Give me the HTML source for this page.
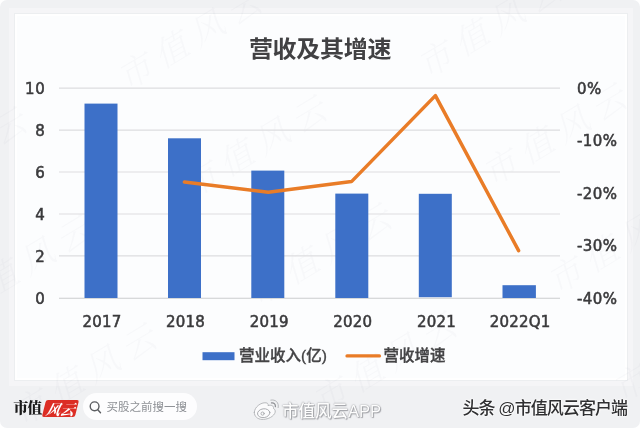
<!DOCTYPE html>
<html lang="zh-CN">
<head>
<meta charset="utf-8">
<title>营收及其增速</title>
<style>
  html, body { margin: 0; padding: 0; }
  body { width: 640px; height: 428px; overflow: hidden; background: #ffffff;
         font-family: "Liberation Sans", "Noto Sans CJK SC", sans-serif; }
  #stage { position: relative; width: 640px; height: 428px; overflow: hidden;
           background: #f0f1f3; border-radius: 7px; }
  #card { position: absolute; left: 14.7px; top: 14px; width: 612px; height: 366.3px; box-sizing: border-box;
          background: #fcfdfe; border: 2px solid #ffffff; box-shadow: 0 0 0 1px #eceef0, 0 0 0 6px rgba(255,255,255,0.32); }
  .wmt { font-family: "Noto Serif CJK SC", "Liberation Serif", serif; font-size: 34px; font-weight: 300; font-style: italic;
         letter-spacing: 8px; fill: rgba(140,150,170,0.045); }
  #title { position: absolute; left: 0; width: 640px; top: 31px; text-align: center; transform: scaleY(0.93); transform-origin: 50% 100%;
           font-family: "Liberation Sans", "Noto Sans CJK SC", sans-serif;
           font-weight: 700; font-size: 24px; line-height: 34px; color: #414143; letter-spacing: -0.3px; }
  svg { position: absolute; left: 0; top: 0; }
  .ax { font-family: "DejaVu Sans", "Liberation Sans", sans-serif; font-size: 15px; letter-spacing: 0.2px; fill: #3a3a3c; stroke: #3a3a3c; stroke-width: 0.55px; }
  .lg { font-family: "Liberation Sans", "Noto Sans CJK SC", sans-serif; font-size: 15.5px; fill: #444446; font-weight: 500; stroke: #444446; stroke-width: 0.35px; }
  #logo { position: absolute; left: 13.3px; top: 395.8px; height: 22px; line-height: 22px;
          font-family: "Noto Serif CJK SC", "Liberation Serif", serif; font-weight: 900;
          font-size: 15px; color: #1a1a1a; letter-spacing: -1.1px; }
  #red { position: absolute; left: 44px; top: 399.6px; width: 32.6px; height: 16.6px; background: #dc2d24;
         transform: skewX(-14deg); border-radius: 2px; }
  #redt { position: absolute; left: 44px; top: 399.5px; width: 33px; height: 17px; line-height: 17px; text-align: center;
          color: #fff; font-family: "Noto Serif CJK SC", serif; font-style: italic; font-weight: 700; font-size: 14.5px;
          transform: skewX(-14deg); letter-spacing: -0.5px; }
  #pill { position: absolute; left: 83px; top: 393px; width: 114px; height: 27px; border-radius: 14px; background: #fdfdfe; }
  #pill span { position: absolute; left: 23.4px; top: 0.5px; line-height: 27px; font-size: 11.5px; color: #8c8f94; white-space: nowrap; }
  #weibo { position: absolute; left: 282px; top: 399px; font-weight: 500; line-height: 24px; font-size: 16.5px; color: #fdfdfd; white-space: nowrap;
           text-shadow: 0 0 1px #9a9ca0, 0 0 2px #a8aaae, 1px 1px 1px #a0a2a6; letter-spacing: 0; }
  #tt { position: absolute; left: 462.5px; top: 396.7px; line-height: 24px; font-size: 17px; letter-spacing: -0.95px; font-weight: 500; color: #303032; white-space: nowrap;
        text-shadow: 0 0 2px #fff, 0 0 2px #fff, 0 0 3px #fff; }
</style>
</head>
<body>
<div id="stage">
  <div id="card"></div>


  <svg id="wmsvg" width="640" height="428" viewBox="0 0 640 428">
    <g class="wmt">
      <text transform="translate(-165,84) rotate(-31)" x="-17" y="12">市值风云</text>
      <text transform="translate(-100,192) rotate(-31)" x="-17" y="12">市值风云</text>
      <text transform="translate(-35,300) rotate(-31)" x="-17" y="12">市值风云</text>
      <text transform="translate(30,408) rotate(-31)" x="-17" y="12">市值风云</text>
      <text transform="translate(70,-36) rotate(-31)" x="-17" y="12">市值风云</text>
      <text transform="translate(135,72) rotate(-31)" x="-17" y="12">市值风云</text>
      <text transform="translate(200,180) rotate(-31)" x="-17" y="12">市值风云</text>
      <text transform="translate(265,288) rotate(-31)" x="-17" y="12">市值风云</text>
      <text transform="translate(330,396) rotate(-31)" x="-17" y="12">市值风云</text>
      <text transform="translate(435,60) rotate(-31)" x="-17" y="12">市值风云</text>
      <text transform="translate(500,168) rotate(-31)" x="-17" y="12">市值风云</text>
      <text transform="translate(565,276) rotate(-31)" x="-17" y="12">市值风云</text>
      <text transform="translate(630,384) rotate(-31)" x="-17" y="12">市值风云</text>
    </g>
  </svg>
  <div id="title">营收及其增速</div>
  <div id="pill"><span>买股之前搜一搜</span></div>

  <svg width="640" height="428" viewBox="0 0 640 428">
    <!-- gridlines -->
    <g stroke="#dddddf" stroke-width="1.2">
      <line x1="59" x2="560" y1="88.2" y2="88.2"/>
      <line x1="59" x2="560" y1="130.1" y2="130.1"/>
      <line x1="59" x2="560" y1="172" y2="172"/>
      <line x1="59" x2="560" y1="214" y2="214"/>
      <line x1="59" x2="560" y1="255.9" y2="255.9"/>
    </g>
    <line x1="59" x2="560" y1="298.3" y2="298.3" stroke="#cbccce" stroke-width="1.1"/>
    <!-- bars -->
    <g fill="#3d70c8">
      <rect x="84.5" y="103.6" width="33" height="194.4"/>
      <rect x="168" y="138.3" width="33" height="159.7"/>
      <rect x="251.3" y="170.6" width="33" height="127.4"/>
      <rect x="335.3" y="193.6" width="33" height="104.4"/>
      <rect x="418.8" y="193.8" width="33" height="103.4"/>
      <rect x="502.5" y="285.2" width="33.4" height="12.8"/>
    </g>
    <!-- line -->
    <polyline fill="none" stroke="#e97c27" stroke-width="3.5" stroke-linejoin="round" stroke-linecap="round"
      points="184.4,182 268.3,192.3 351.5,181.6 435.4,95.6 518.6,250.6"/>
    <!-- left axis -->
    <g class="ax" text-anchor="end" style="letter-spacing:0.6px">
      <text x="45.3" y="93.8">10</text>
      <text x="45.3" y="135.7">8</text>
      <text x="45.3" y="177.6">6</text>
      <text x="45.3" y="219.6">4</text>
      <text x="45.3" y="261.5">2</text>
      <text x="45.3" y="303.6">0</text>
    </g>
    <!-- right axis -->
    <g class="ax" text-anchor="start" style="letter-spacing:0.4px">
      <text x="577" y="93.8">0%</text>
      <text x="577" y="146.3">-10%</text>
      <text x="577" y="198.8">-20%</text>
      <text x="577" y="251.3">-30%</text>
      <text x="577" y="303.8">-40%</text>
    </g>
    <!-- x axis -->
    <g class="ax" text-anchor="middle">
      <text x="101.9" y="326.9">2017</text>
      <text x="185.4" y="326.9">2018</text>
      <text x="269.2" y="326.9">2019</text>
      <text x="352.8" y="326.9">2020</text>
      <text x="436.4" y="326.9">2021</text>
      <text x="520.1" y="326.9">2022Q1</text>
    </g>
    <!-- legend -->
    <rect x="202.5" y="352.2" width="32" height="8" fill="#3d70c8"/>
    <text class="lg" x="239" y="361.3">营业收入(亿)</text>
    <line x1="347" x2="379.5" y1="355.9" y2="355.9" stroke="#e97c27" stroke-width="3.2" stroke-linecap="round"/>
    <text class="lg" x="383.5" y="361.3">营收增速</text>

    <!-- search icon -->
    <g fill="none" stroke="#5b5d61" stroke-width="1.4" stroke-linecap="round">
      <circle cx="94.6" cy="406.3" r="4.4"/>
      <line x1="97.8" y1="409.7" x2="100.5" y2="412.7"/>
    </g>
    <!-- weibo icon -->
    <g fill="none" stroke="#b0b2b6" stroke-width="0.9" stroke-linecap="round" stroke-linejoin="round">
      <path fill="#fbfbfc" d="M254.3 412.5 C254.3 407 261 402.2 266 402.8 C268 403 268.5 404.5 268 405.6 C271 404.6 274 405.6 273.5 408.5 C275.6 409.5 275.6 412 274.6 413.6 C272 418 266 419.6 262 419.4 C257.5 419.2 254.3 416.5 254.3 412.5 Z"/>
      <ellipse cx="263.7" cy="413.2" rx="6.2" ry="4.4" transform="rotate(-8 263.7 413.2)" stroke="#a6a8ac"/>
      <circle cx="262.6" cy="413.6" r="1.6" stroke="#a6a8ac"/>
      <path d="M271.5 402.9 C273.8 402.5 275.6 404 275.4 406.6" stroke="#8e9094" stroke-width="1.3"/>
      <path d="M270.8 400.1 C275.5 399.1 279.2 402.5 278.2 407.6"/>
    </g>
  </svg>

  <div id="logo">市值</div>
  <div id="red"></div>
  <div id="redt">风云</div>
  <div id="weibo">市值风云APP</div>
  <div id="tt">头条 @市值风云客户端</div>
</div>
</body>
</html>
